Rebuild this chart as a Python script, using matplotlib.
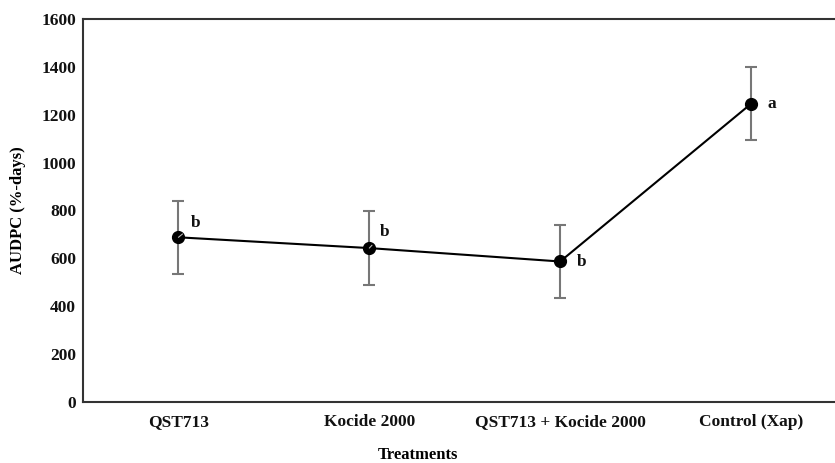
import matplotlib
matplotlib.use("Agg")
import matplotlib.pyplot as plt

categories = ["QST713", "Kocide 2000", "QST713 + Kocide 2000", "Control (Xap)"]
audpc = [688, 643, 587, 1246]
errors = [153, 155, 152, 153]
letters = ["b", "b", "b", "a"]
letter_offsets = [(17, 14), (15, 16), (21, -1), (21, 0)]  # pixel offsets
leader = [True, True, False, False]
yticks = [0, 200, 400, 600, 800, 1000, 1200, 1400, 1600]

plt.rcParams['font.family'] = ['Liberation Serif', 'DejaVu Serif']
plt.rcParams['font.weight'] = 'bold'

fig = plt.figure(figsize=(8.35, 4.63), dpi=100)
W, H = 835, 463
left, right, top, bottom = 83, 846.5, 19, 402
ax = fig.add_axes([left / W, (H - bottom) / H, (right - left) / W, (bottom - top) / H])

x = list(range(len(categories)))
ax.errorbar(x, audpc, yerr=errors, fmt='none', ecolor='#777777', elinewidth=1.5,
            capsize=4.5, capthick=1.5, zorder=2)
ax.plot(x, audpc, color='black', lw=1.5, marker='o', markersize=8.5,
        markerfacecolor='black', markeredgecolor='black', zorder=3)

for xi, yi, lt, (dx, dy), ld in zip(x, audpc, letters, letter_offsets, leader):
    kw = dict(xy=(xi, yi), xytext=(dx * 0.72, dy * 0.72), textcoords='offset points',
              ha='center', va='center', fontsize=12.5, fontweight='bold', color='#111111')
    if ld:
        kw['arrowprops'] = dict(arrowstyle='-', color='#bbbbbb', lw=0.8, shrinkA=5, shrinkB=0)
    ax.annotate(lt, **kw)

ax.set_xlim(-0.5, 3.5)
ax.set_ylim(0, 1600)
ax.set_yticks(yticks)
ax.set_yticklabels([str(v) for v in yticks], fontsize=12.5, fontweight='bold')
ax.set_xticks(x)
ax.set_xticklabels(categories, fontsize=12.5, fontweight='bold')
ax.tick_params(axis='both', length=0, pad=5, colors='#111111')
ax.tick_params(axis='x', pad=9)

for s in ['left', 'bottom', 'top']:
    ax.spines[s].set_linewidth(1.5)
    ax.spines[s].set_color('#333333')
ax.spines['right'].set_visible(False)

ax.set_ylabel("AUDPC (%-days)", fontsize=12, fontweight='bold')
ax.yaxis.set_label_coords(-18 / (right - left) - 0 + (18 - 18) / (right - left) - (83 - 18 - 0) / (right - left) + 18 / (right - left), 0.5)
ax.set_xlabel("Treatments", fontsize=12, fontweight='bold')
ax.xaxis.set_label_coords(0.5 - (849 - 835) / 2 / (right - left) * 0 + ((835 / 2) - (left + right) / 2) / (right - left), -(455 - 402) / (bottom - top))
ax.xaxis.label.set_va('center')
ax.yaxis.label.set_va('center')

fig.savefig("out.png", dpi=100)
